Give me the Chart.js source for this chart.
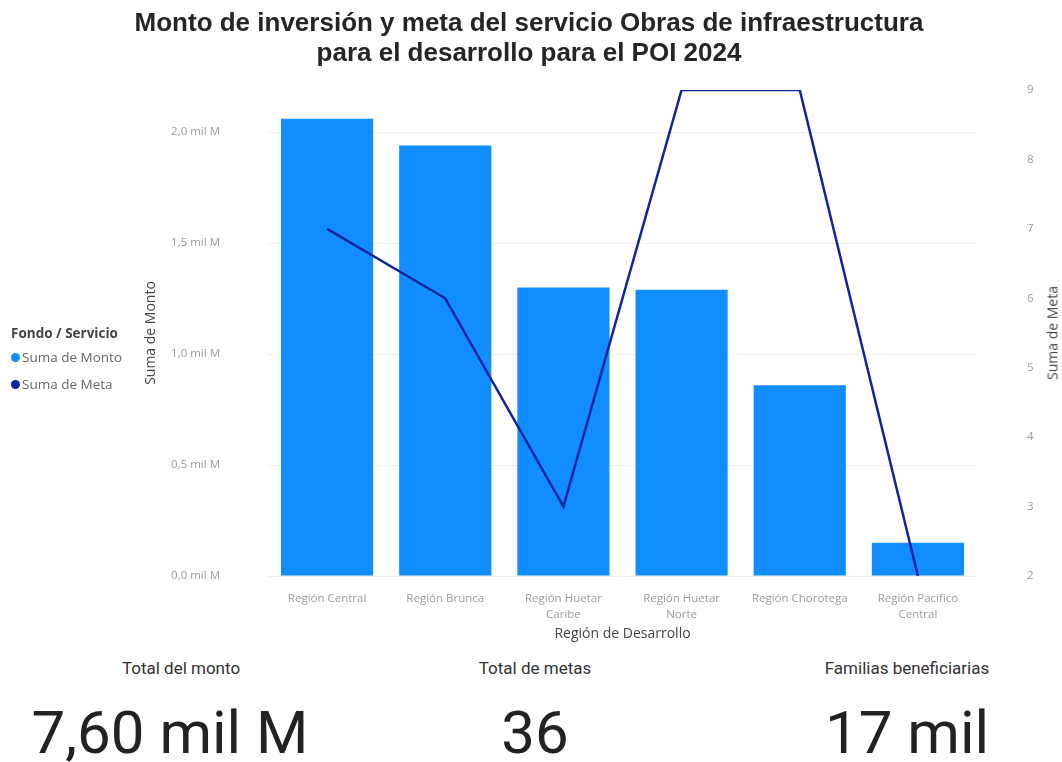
<!DOCTYPE html>
<html lang="es">
<head>
<meta charset="utf-8">
<script src="https://cdn.jsdelivr.net/npm/chart.js@4/dist/chart.umd.min.js"></script>
<style>
  html, body { margin: 0; padding: 0; background: #fff; }
  #page { position: relative; width: 1062px; height: 762px; overflow: hidden; }
  #chartBox { position: absolute; left: 0; top: 0; width: 1062px; height: 650px; }
  .title { position: absolute; left: 29px; top: 7px; width: 1000px; text-align: center;
           font-family: "Liberation Sans", Arial, sans-serif; font-weight: bold; font-size: 26px;
           line-height: 30px; color: #252525; }
  .legend { position: absolute; left: 11px; top: 322px; font-family: "Open Sans", sans-serif; font-size: 13.5px; color: #666; }
  .legend .ttl { font-weight: bold; color: #444; height: 24px; line-height: 22px; }
  .legend .item { height: 27px; line-height: 22px; white-space: nowrap; }
  .legend .dot { display: inline-block; width: 9px; height: 9px; border-radius: 50%; margin-right: 2px; vertical-align: 0px; }
  .rtitle { position: absolute; left: 1052px; top: 333px; width: 0; height: 0; }
  .rtitle span { position: absolute; left: 0; top: 0; transform: translate(-50%, -50%) rotate(-90deg);
                 white-space: nowrap; font-family: "Open Sans", sans-serif; font-size: 14px; color: #444; }
  .kpi { position: absolute; width: 360px; margin-left: -180px; text-align: center; font-family: Roboto, sans-serif; }
  .kpi.lbl { top: 656px; font-size: 17px; line-height: 24px; color: #333; }
  .kpi.val { top: 693px; font-size: 60px; line-height: 80px; color: #222; }
</style>
</head>
<body>
<div id="page">
  <div id="chartBox"><canvas id="combo" width="1062" height="650"></canvas></div>
  <div class="title" id="title"></div>
  <div class="legend" id="legend"></div>
  <div class="rtitle"><span id="metaTitle"></span></div>
  <div class="kpi lbl" style="left:181px">Total del monto</div>
  <div class="kpi val" style="left:170px" id="kpiMonto"></div>
  <div class="kpi lbl" style="left:535px">Total de metas</div>
  <div class="kpi val" style="left:535px" id="kpiMetas"></div>
  <div class="kpi lbl" style="left:907px">Familias beneficiarias</div>
  <div class="kpi val" style="left:907px" id="kpiFam"></div>
</div>
<script>
// Regions on the x axis, multi-line labels as Power BI wraps them.
const regiones = [
    ["Región Central"],
    ["Región Brunca"],
    ["Región Huetar", "Caribe"],
    ["Región Huetar", "Norte"],
    ["Región Chorotega"],
    ["Región Pacífico", "Central"],
];

// Monto in "mil M" (thousands of millions of colones).
const montoMilM = [2.06, 1.94, 1.30, 1.29, 0.86, 0.15];
// Meta per region (right axis).
const meta = [7, 6, 3, 9, 9, 2];

const montoTicks = [0, 0.5, 1, 1.5, 2];
const metaTicks = [2, 3, 4, 5, 6, 7, 8, 9];

const titulo = [
    "Monto de inversión y meta del servicio Obras de infraestructura",
    "para el desarrollo para el POI 2024",
];
const totalMonto = "7,60 mil M";
const totalMetas = "36";
const familias = "17 mil";

const COLORS = {
    bar: "#118DFF",
    line: "#12239E",
    tick: "#9a9a9a",
    axisTitle: "#444444",
    grid: "#efefef",
};

const TICK_FONT = { family: "'Open Sans', sans-serif", size: 11.5 };
const AXIS_TITLE_FONT = { family: "'Open Sans', sans-serif", size: 14 };

function fmtMonto(v) {
    return v.toFixed(1).replace(".", ",") + " mil M";
}

function renderText() {
    document.getElementById("title").innerHTML = titulo.join("<br>");
    document.getElementById("legend").innerHTML =
        '<div class="ttl">Fondo / Servicio</div>' +
        '<div class="item"><span class="dot" style="background:' + COLORS.bar + '"></span>Suma de Monto</div>' +
        '<div class="item"><span class="dot" style="background:' + COLORS.line + '"></span>Suma de Meta</div>';
    // Right-axis title reads bottom-to-top like the left one, so it lives in HTML.
    document.getElementById("metaTitle").textContent = "Suma de Meta";
    document.getElementById("kpiMonto").textContent = totalMonto;
    document.getElementById("kpiMetas").textContent = totalMetas;
    document.getElementById("kpiFam").textContent = familias;
}

function renderChart() {
    const ctx = document.getElementById("combo").getContext("2d");
    new Chart(ctx, {
        type: "bar",
        data: {
            labels: regiones,
            datasets: [
                {
                    type: "line",
                    label: "Suma de Meta",
                    data: meta,
                    yAxisID: "yMeta",
                    borderColor: COLORS.line,
                    backgroundColor: COLORS.line,
                    borderWidth: 2.5,
                    pointRadius: 0,
                    tension: 0,
                    order: 0,
                },
                {
                    type: "bar",
                    label: "Suma de Monto",
                    data: montoMilM,
                    yAxisID: "yMonto",
                    backgroundColor: COLORS.bar,
                    barPercentage: 0.78,
                    categoryPercentage: 1,
                    order: 1,
                },
            ],
        },
        options: {
            responsive: false,
            animation: false,
            layout: { padding: { left: 143, right: 0, top: 90, bottom: 0 } },
            plugins: {
                legend: { display: false },
                tooltip: { enabled: false },
            },
            scales: {
                x: {
                    grid: { display: false, drawTicks: false },
                    border: { display: false },
                    afterFit: (scale) => { scale.height = 74; },
                    ticks: {
                        color: COLORS.tick,
                        font: { ...TICK_FONT, lineHeight: 1.4 },
                        padding: 15,
                        maxRotation: 0,
                        autoSkip: false,
                    },
                    title: {
                        display: true,
                        text: "Región de Desarrollo",
                        color: COLORS.axisTitle,
                        font: AXIS_TITLE_FONT,
                        padding: { top: 0, bottom: 8 },
                    },
                },
                yMonto: {
                    position: "left",
                    min: 0,
                    max: 2.19,
                    afterBuildTicks: (scale) => {
                        scale.ticks = montoTicks.map((v) => ({ value: v }));
                    },
                    afterFit: (scale) => { scale.width = 125; },
                    grid: { color: COLORS.grid, drawTicks: false },
                    border: { display: false },
                    ticks: {
                        color: COLORS.tick,
                        font: TICK_FONT,
                        padding: 48,
                        callback: (v) => fmtMonto(v),
                    },
                    title: {
                        display: true,
                        text: "Suma de Monto",
                        color: COLORS.axisTitle,
                        font: AXIS_TITLE_FONT,
                        padding: { top: 0, bottom: 0 },
                    },
                },
                yMeta: {
                    position: "right",
                    min: 2,
                    max: 9,
                    afterBuildTicks: (scale) => {
                        scale.ticks = metaTicks.map((v) => ({ value: v }));
                    },
                    afterFit: (scale) => { scale.width = 85; },
                    grid: { display: false, drawTicks: false },
                    border: { display: false },
                    ticks: {
                        color: COLORS.tick,
                        font: TICK_FONT,
                        padding: 50,
                    },
                },
            },
        },
    });
}

function init() {
    renderText();
    renderChart();
}

if (document.readyState === "loading") {
    document.addEventListener("DOMContentLoaded", init, { once: true });
} else {
    init();
}
</script>
</body>
</html>
